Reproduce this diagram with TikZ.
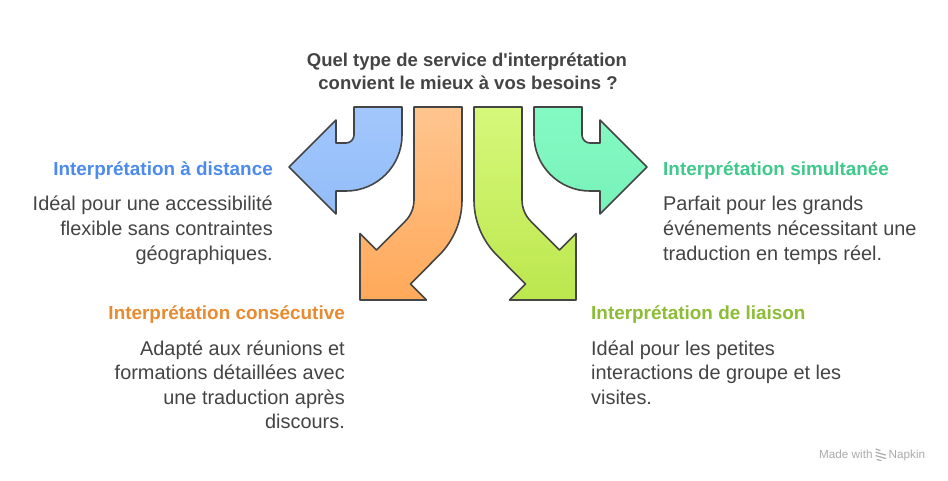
\documentclass[tikz,border=0pt]{standalone}
\usepackage{fontspec}
\setmainfont{Liberation Sans}[Ligatures=TeXOff]
\definecolor{txt}{HTML}{444444}
\definecolor{edge}{HTML}{454545}
\definecolor{hblue}{HTML}{4C8BEB}
\definecolor{horange}{HTML}{E88A30}
\definecolor{hgreen}{HTML}{3FC98B}
\definecolor{hlime}{HTML}{8CBD35}
\definecolor{blueT}{HTML}{A2C7FC}
\definecolor{blueB}{HTML}{93BCF8}
\definecolor{tealT}{HTML}{84FAC3}
\definecolor{tealB}{HTML}{78F2B9}
\definecolor{orT}{HTML}{FFC58F}
\definecolor{orB}{HTML}{FFA95A}
\definecolor{limeT}{HTML}{D6F87B}
\definecolor{limeB}{HTML}{BCE74D}
\tikzset{
  arrowshape/.style={draw=edge, line width=1.6pt, line join=round},
  ttl/.style={font=\fontsize{18.5}{23.3}\selectfont\bfseries, text=txt, inner sep=0pt},
  head/.style={font=\fontsize{18.9}{24}\selectfont\bfseries, inner sep=0pt},
  body/.style={font=\fontsize{19.9}{25}\selectfont, text=txt, inner sep=0pt},
  credit/.style={font=\fontsize{11.7}{13}\selectfont, text=black!33, inner sep=0pt}
}
\begin{document}
\begin{tikzpicture}[x=1pt,y=-1pt]
\useasboundingbox (0,0) rectangle (948,480);
\fill[white] (0,0) rectangle (948,480);

% title
\node[ttl, anchor=base] (t1) at (467,66) {Quel type de service d'interprétation};
\node[ttl, anchor=base] (t2) at (468,89.3) {convient le mieux à vos besoins ?};

% blue arrow (left)
\path[arrowshape, top color=blueT, bottom color=blueB]
  (354,107) -- (402,107) -- (402,135) arc[start angle=0,end angle=90,radius=56]
  -- (336,191) -- (336,214) -- (289,167) -- (336,120) -- (336,143) -- (346,143)
  arc[start angle=90,end angle=0,radius=8] -- cycle;

% teal arrow (right)
\path[arrowshape, top color=tealT, bottom color=tealB]
  (582,107) -- (534,107) -- (534,135) arc[start angle=180,end angle=90,radius=56]
  -- (600,191) -- (600,214) -- (647,167) -- (600,120) -- (600,143) -- (590,143)
  arc[start angle=90,end angle=180,radius=8] -- cycle;

% orange arrow (down-left)
\path[arrowshape, top color=orT, bottom color=orB]
  (414,107) -- (462,107) -- (462,200) arc[start angle=0,end angle=45,radius=78]
  -- (410.5,284) -- (426.5,300) -- (360,300) -- (360,233.5) -- (376.5,250)
  -- (405.2,221.2) arc[start angle=45,end angle=0,radius=30] -- cycle;

% lime arrow (down-right)
\path[arrowshape, top color=limeT, bottom color=limeB]
  (522,107) -- (474,107) -- (474,200) arc[start angle=180,end angle=135,radius=78]
  -- (525.5,284) -- (509.5,300) -- (576,300) -- (576,233.5) -- (559.5,250)
  -- (530.8,221.2) arc[start angle=135,end angle=180,radius=30] -- cycle;

% left top block
\node[head, text=hblue, anchor=base east] (h1) at (273,175) {Interprétation à distance};
\node[body, anchor=base east] (b1a) at (273,210.5) {Idéal pour une accessibilité};
\node[body, anchor=base east] (b1b) at (273,235.5) {flexible sans contraintes};
\node[body, anchor=base east] (b1c) at (273,260.5) {géographiques.};

% left bottom block
\node[head, text=horange, anchor=base east] (h2) at (345,319.3) {Interprétation consécutive};
\node[body, anchor=base east] (b2a) at (345,355) {Adapté aux réunions et};
\node[body, anchor=base east] (b2b) at (345,379.5) {formations détaillées avec};
\node[body, anchor=base east] (b2c) at (345,404) {une traduction après};
\node[body, anchor=base east] (b2d) at (345,428.5) {discours.};

% right top block
\node[head, text=hgreen, anchor=base west] (h3) at (663,175) {Interprétation simultanée};
\node[body, anchor=base west] (b3a) at (663,210.5) {Parfait pour les grands};
\node[body, anchor=base west] (b3b) at (663,235.5) {événements nécessitant une};
\node[body, anchor=base west] (b3c) at (663,260.5) {traduction en temps réel.};

% right bottom block
\node[head, text=hlime, anchor=base west] (h4) at (591,319.3) {Interprétation de liaison};
\node[body, anchor=base west] (b4a) at (591,355) {Idéal pour les petites};
\node[body, anchor=base west] (b4b) at (591,379.5) {interactions de groupe et les};
\node[body, anchor=base west] (b4c) at (591,404) {visites.};

% credit
\node[credit, anchor=base west] (c1) at (819,458.3) {Made with};
\node[credit, anchor=base west] (c2) at (888.5,458.3) {Napkin};
\begin{scope}[draw=black!33, line width=1.2pt, line cap=round]
  \draw (876,449) -- (880,450.5);
  \draw (876,452.3) -- (885.5,455);
  \draw (876,455.7) -- (885.5,458.4);
  \draw (877,459.5) -- (881,460.6);
\end{scope}
\end{tikzpicture}
\end{document}
